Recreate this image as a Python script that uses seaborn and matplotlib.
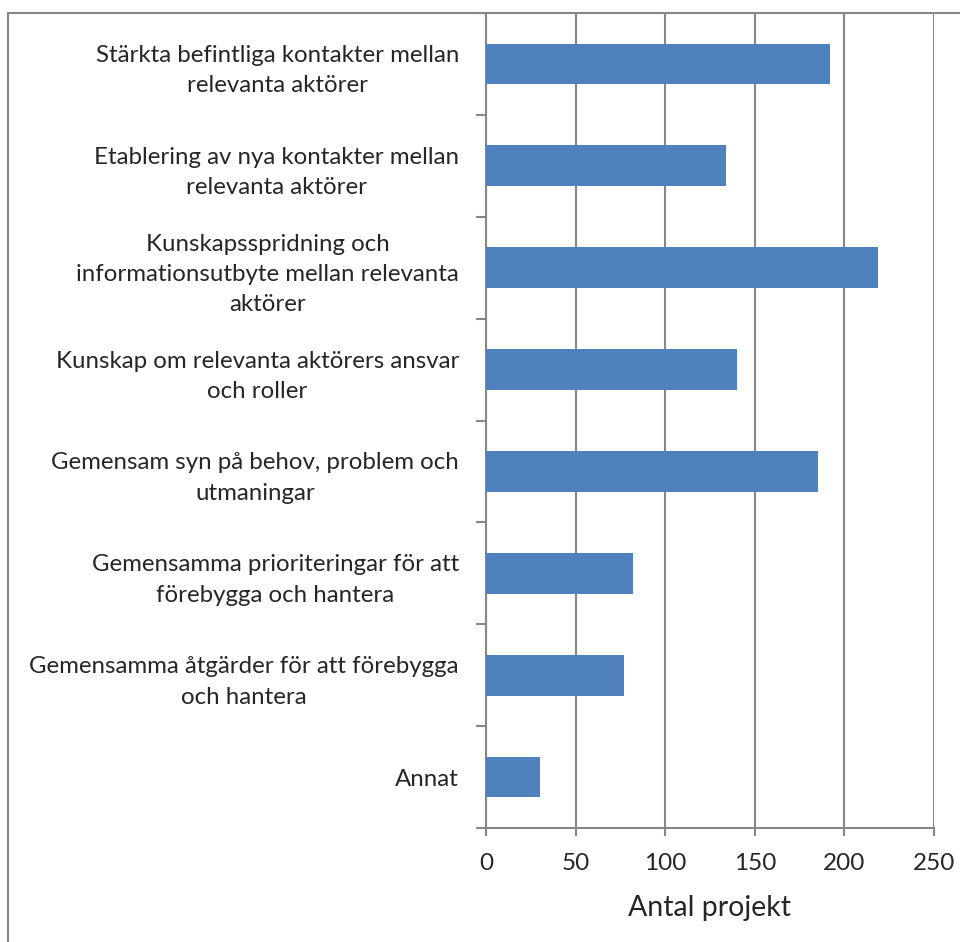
import numpy as np
import pandas as pd
import matplotlib
matplotlib.use("Agg")
import matplotlib.pyplot as plt
from matplotlib.patches import Rectangle
import seaborn as sns

categories = [
    "Stärkta befintliga kontakter mellan\nrelevanta aktörer",
    "Etablering av nya kontakter mellan\nrelevanta aktörer",
    "Kunskapsspridning och\ninformationsutbyte mellan relevanta\naktörer",
    "Kunskap om relevanta aktörers ansvar\noch roller",
    "Gemensam syn på behov, problem och\nutmaningar",
    "Gemensamma prioriteringar för att\nförebygga och hantera",
    "Gemensamma åtgärder för att förebygga\noch hantera",
    "Annat",
]
antal = [192, 134, 219, 140, 185, 82, 77, 30]
x_ticks = [0, 50, 100, 150, 200, 250]

df = pd.DataFrame({"kategori": categories, "antal": antal})

sns.set_style("white")
plt.rcParams['font.family'] = ['Lato', 'DejaVu Sans']

grey = "#878787"
fig = plt.figure(figsize=(9.6, 9.42), dpi=100)
ax = fig.add_axes([486 / 960, 1 - 828 / 942, (934 - 486) / 960, (828 - 13) / 942])

sns.barplot(data=df, x="antal", y="kategori", orient="h", color="#4F81BD",
            width=0.4, saturation=1, linewidth=0, ax=ax, zorder=3)

ax.set_xlim(0, 250)
ax.set_ylim(7.5, -0.5)
ax.set_xticks(x_ticks)
ax.set_xticklabels([str(t) for t in x_ticks], fontsize=17.5)
ax.xaxis.grid(True, color=grey, linewidth=1.5, zorder=0)
ax.yaxis.grid(False)

ax.set_yticks(range(len(categories)))
ax.set_yticklabels(categories, fontsize=17.3, ha="right", multialignment="center",
                   linespacing=1.55)
ax.tick_params(axis="y", which="major", left=False, pad=16)
ax.set_yticks(np.arange(-0.5, 8, 1), minor=True)
ax.tick_params(axis="y", which="minor", left=True, length=7.5, width=1.5,
               color=grey, direction="out")
ax.tick_params(axis="x", bottom=True, length=6, width=1.5, color=grey,
               direction="out", pad=12)

ax.set_ylabel("")
ax.set_xlabel("Antal projekt", fontsize=20.5, labelpad=15)

for s in ["top", "right"]:
    ax.spines[s].set_visible(False)
for s in ["left", "bottom"]:
    ax.spines[s].set_color(grey)
    ax.spines[s].set_linewidth(1.5)

# chart border (cropped on right and bottom)
fig.patches.append(Rectangle((8 / 960, -0.05), 1.2, 1 - 13 / 942 + 0.05,
                             transform=fig.transFigure, fill=False,
                             edgecolor=grey, linewidth=1.5))

fig.savefig("out.png", dpi=100)
